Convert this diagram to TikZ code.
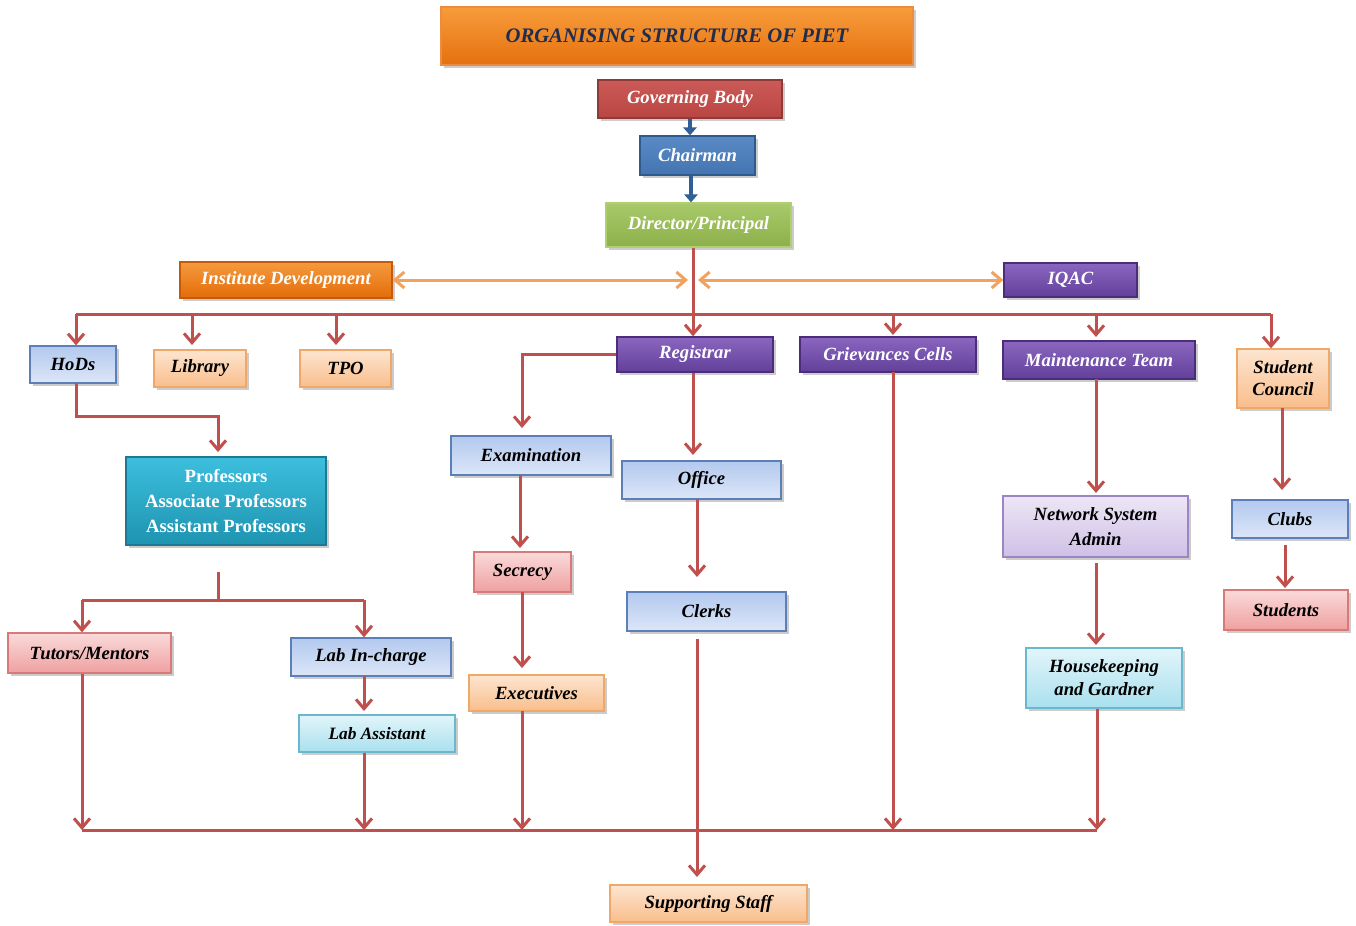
\documentclass[tikz,border=0pt]{standalone}
\usepackage{fontspec}
\setmainfont{Liberation Serif}
\usetikzlibrary{arrows.meta,shadows,calc}
\definecolor{rl}{HTML}{C0504D}
\definecolor{orarr}{HTML}{F2A25C}
\definecolor{blarr}{HTML}{2F5F96}
\definecolor{ttxt}{HTML}{1F2D4E}
\newcommand\bfi{\fontsize{14}{17}\selectfont\bfseries\itshape}
\begin{document}
\begin{tikzpicture}[x=0.75pt,y=-0.75pt,
  sz/.style 2 args={minimum width=#1*0.75pt, minimum height=#2*0.75pt},
  box/.style={rectangle, draw, line width=1pt, inner sep=0pt, align=center, font=\bfi,
    drop shadow={opacity=0.4, shadow xshift=2pt, shadow yshift=-2pt}},
  dk/.style={box, text=white},
  purp/.style={dk, top color={rgb,255:red,138;green,102;blue,191}, bottom color={rgb,255:red,98;green,64;blue,154}, draw={rgb,255:red,75;green,45;blue,122}},
  lblue/.style={box, top color={rgb,255:red,179;green,201;blue,238}, bottom color={rgb,255:red,220;green,230;blue,248}, draw={rgb,255:red,92;green,127;blue,184}},
  peach/.style={box, top color={rgb,255:red,253;green,229;blue,208}, bottom color={rgb,255:red,249;green,190;blue,140}, draw={rgb,255:red,240;green,168;blue,104}},
  pink/.style={box, top color={rgb,255:red,250;green,218;blue,218}, bottom color={rgb,255:red,239;green,160;blue,160}, draw={rgb,255:red,216;green,122;blue,120}},
  lav/.style={box, top color={rgb,255:red,237;green,230;blue,245}, bottom color={rgb,255:red,207;green,192;blue,230}, draw={rgb,255:red,156;green,134;blue,194}},
  cyanb/.style={box, top color={rgb,255:red,226;green,245;blue,250}, bottom color={rgb,255:red,169;green,224;blue,238}, draw={rgb,255:red,106;green,184;blue,206}},
  rline/.style={draw=rl, line width=2.25pt},
  rarr/.style={rline, -{Straight Barb[length=7pt,width=12pt]}},
  oarr/.style={draw=orarr, line width=2.25pt, {Straight Barb[length=7pt,width=12pt]}-{Straight Barb[length=7pt,width=12pt]}},
  barr/.style={draw=blarr, line width=3pt, -{Triangle[length=6pt,width=10pt]}}
]
\fill[white] (0,0) rectangle (1356,925);
\useasboundingbox (0,0) rectangle (1356,925);

% title and top chain
\node[box, sz={472}{58}, top color={rgb,255:red,248;green,156;blue,60}, bottom color={rgb,255:red,229;green,112;blue,14}, draw={rgb,255:red,236;green,140;blue,60}, text=ttxt, font=\fontsize{15.5}{18}\selectfont\bfseries\itshape] (title) at (677,36) {ORGANISING STRUCTURE OF PIET};
\node[dk, sz={184}{38}, top color={rgb,255:red,203;green,91;blue,88}, bottom color={rgb,255:red,185;green,69;blue,66}, draw={rgb,255:red,142;green,59;blue,56}] (gov) at (690,99) {Governing Body};
\node[dk, sz={115}{39}, top color={rgb,255:red,90;green,138;blue,198}, bottom color={rgb,255:red,68;green,117;blue,176}, draw={rgb,255:red,47;green,90;blue,140}] (chair) at (697.5,155.5) {Chairman};
\node[dk, sz={185}{44}, top color={rgb,255:red,169;green,201;blue,106}, bottom color={rgb,255:red,140;green,176;blue,74}, draw={rgb,255:red,176;green,208;blue,112}] (dir) at (698.5,225) {Director/Principal};
\node[dk, sz={212}{36}, top color={rgb,255:red,245;green,154;blue,62}, bottom color={rgb,255:red,227;green,108;blue,10}, draw={rgb,255:red,197;green,90;blue,10}] (inst) at (286,280) {Institute Development};
\node[purp, sz={133}{34}] (iqac) at (1070.5,280) {IQAC};

% second level
\node[lblue, sz={86}{37}] (hods) at (73,364.5) {HoDs};
\node[peach, sz={92}{37}] (lib) at (200,368.5) {Library};
\node[peach, sz={91}{37}] (tpo) at (345.5,368.5) {TPO};
\node[purp, sz={156}{35}] (reg) at (695,354.5) {Registrar};
\node[purp, sz={176}{35}] (griev) at (888,354.5) {Grievances Cells};
\node[purp, sz={192}{38}] (maint) at (1099,360) {Maintenance Team};
\node[peach, sz={92}{59}, font=\fontsize{14}{16.5}\selectfont\bfseries\itshape] (stc) at (1283,378.5) {Student\\Council};

% lower levels
\node[dk, sz={200}{88}, top color={rgb,255:red,60;green,191;blue,221}, bottom color={rgb,255:red,30;green,147;blue,176}, draw={rgb,255:red,29;green,120;blue,144}, font=\fontsize{14}{18.75}\selectfont\bfseries] (prof) at (226,501) {Professors\\Associate Professors\\Assistant Professors};
\node[lblue, sz={160}{39}] (exam) at (531,455.5) {Examination};
\node[lblue, sz={159}{38}] (office) at (701.5,480) {Office};
\node[lav, sz={185}{61}, font=\fontsize{14}{18.75}\selectfont\bfseries\itshape] (nsa) at (1095.5,526.5) {Network System\\Admin};
\node[lblue, sz={116}{38}] (clubs) at (1290,519) {Clubs};
\node[pink, sz={97}{40}] (secr) at (522.5,572) {Secrecy};
\node[lblue, sz={159}{39}] (clerks) at (706.5,611.5) {Clerks};
\node[pink, sz={124}{40}] (stud) at (1286,610) {Students};
\node[pink, sz={163}{40}] (tut) at (89.5,653) {Tutors/Mentors};
\node[lblue, sz={160}{38}] (labinc) at (371,657) {Lab In-charge};
\node[cyanb, sz={156}{60}, font=\fontsize{14}{17.25}\selectfont\bfseries\itshape] (house) at (1104,678) {Housekeeping\\and Gardner};
\node[peach, sz={135}{36}] (exec) at (536.5,693) {Executives};
\node[cyanb, sz={156}{37}, font=\fontsize{13}{16}\selectfont\bfseries\itshape] (labas) at (377,733.5) {Lab Assistant};
\node[peach, sz={197}{37}] (supp) at (708.5,903.5) {Supporting Staff};

% junction coordinates
\coordinate (trunk) at (693,314);
\coordinate (busL) at (76,314);
\coordinate (busR) at (1271,314);
\coordinate (botL) at (82,830);
\coordinate (botR) at (1097,830);
\coordinate (split) at (218,600);
\coordinate (splL) at (82,600);
\coordinate (splR) at (364,600);
\coordinate (oL) at (688,280);
\coordinate (oR) at (698,280);

% blue arrows
\draw[barr] (gov.south) -- (gov.south |- chair.north);
\draw[barr] ([xshift=-6.5*0.75pt]chair.south) -- ([xshift=-6.5*0.75pt]chair.south |- dir.north);

% orange double arrows
\draw[oarr] (inst.east) -- (oL);
\draw[oarr] (oR) -- (iqac.west);

% main trunk and bus
\draw[rarr] (trunk |- dir.south) -- (trunk |- reg.north);
\draw[rline] (busL) -- (busR);
\draw[rarr] (busL) -- (busL |- hods.north);
\draw[rarr] (192,314) -- (192,345);
\draw[rarr] (336,314) -- (336,345);
\draw[rarr] (893,314) -- (893,335);
\draw[rarr] (1096,314) -- (1096,337);
\draw[rarr] (busR) -- (busR |- stc.north);

% HoDs to professors
\draw[rarr] (76,383) -- (76,416) -| (218,452);

% registrar branch
\draw[rarr] (reg.west) -| (522,428);
\draw[rarr] (trunk |- reg.south) -- (693,455);
\draw[rarr] (520,475) -- (520,548);
\draw[rarr] (522,592) -- (522,668);
\draw[rarr] (697,499) -- (697,577);
\draw[rarr] (697,639) -- (697,877);

% professors split
\draw[rline] (218,572) -- (split);
\draw[rline] (splL) -- (splR);
\draw[rarr] (splL) -- (splL |- tut.north);
\draw[rarr] (splR) -- (splR |- labinc.north);
\draw[rarr] (364,676) -- (364,711);

% maintenance and students
\draw[rarr] (1096,379) -- (1096,493);
\draw[rarr] (1096,563) -- (1096,645);
\draw[rarr] (1282,408) -- (1282,490);
\draw[rarr] (1285,545) -- (1285,588);

% bottom bus
\draw[rline] (botL) -- (botR);
\draw[rarr] (tut.south -| botL) -- (botL);
\draw[rarr] (labas.south -| splR) -- (splR |- botL);
\draw[rarr] (522,711) -- (522,830);
\draw[rarr] (893,372) -- (893,830);
\draw[rarr] (house.south -| botR) -- (botR);
\end{tikzpicture}
\end{document}
